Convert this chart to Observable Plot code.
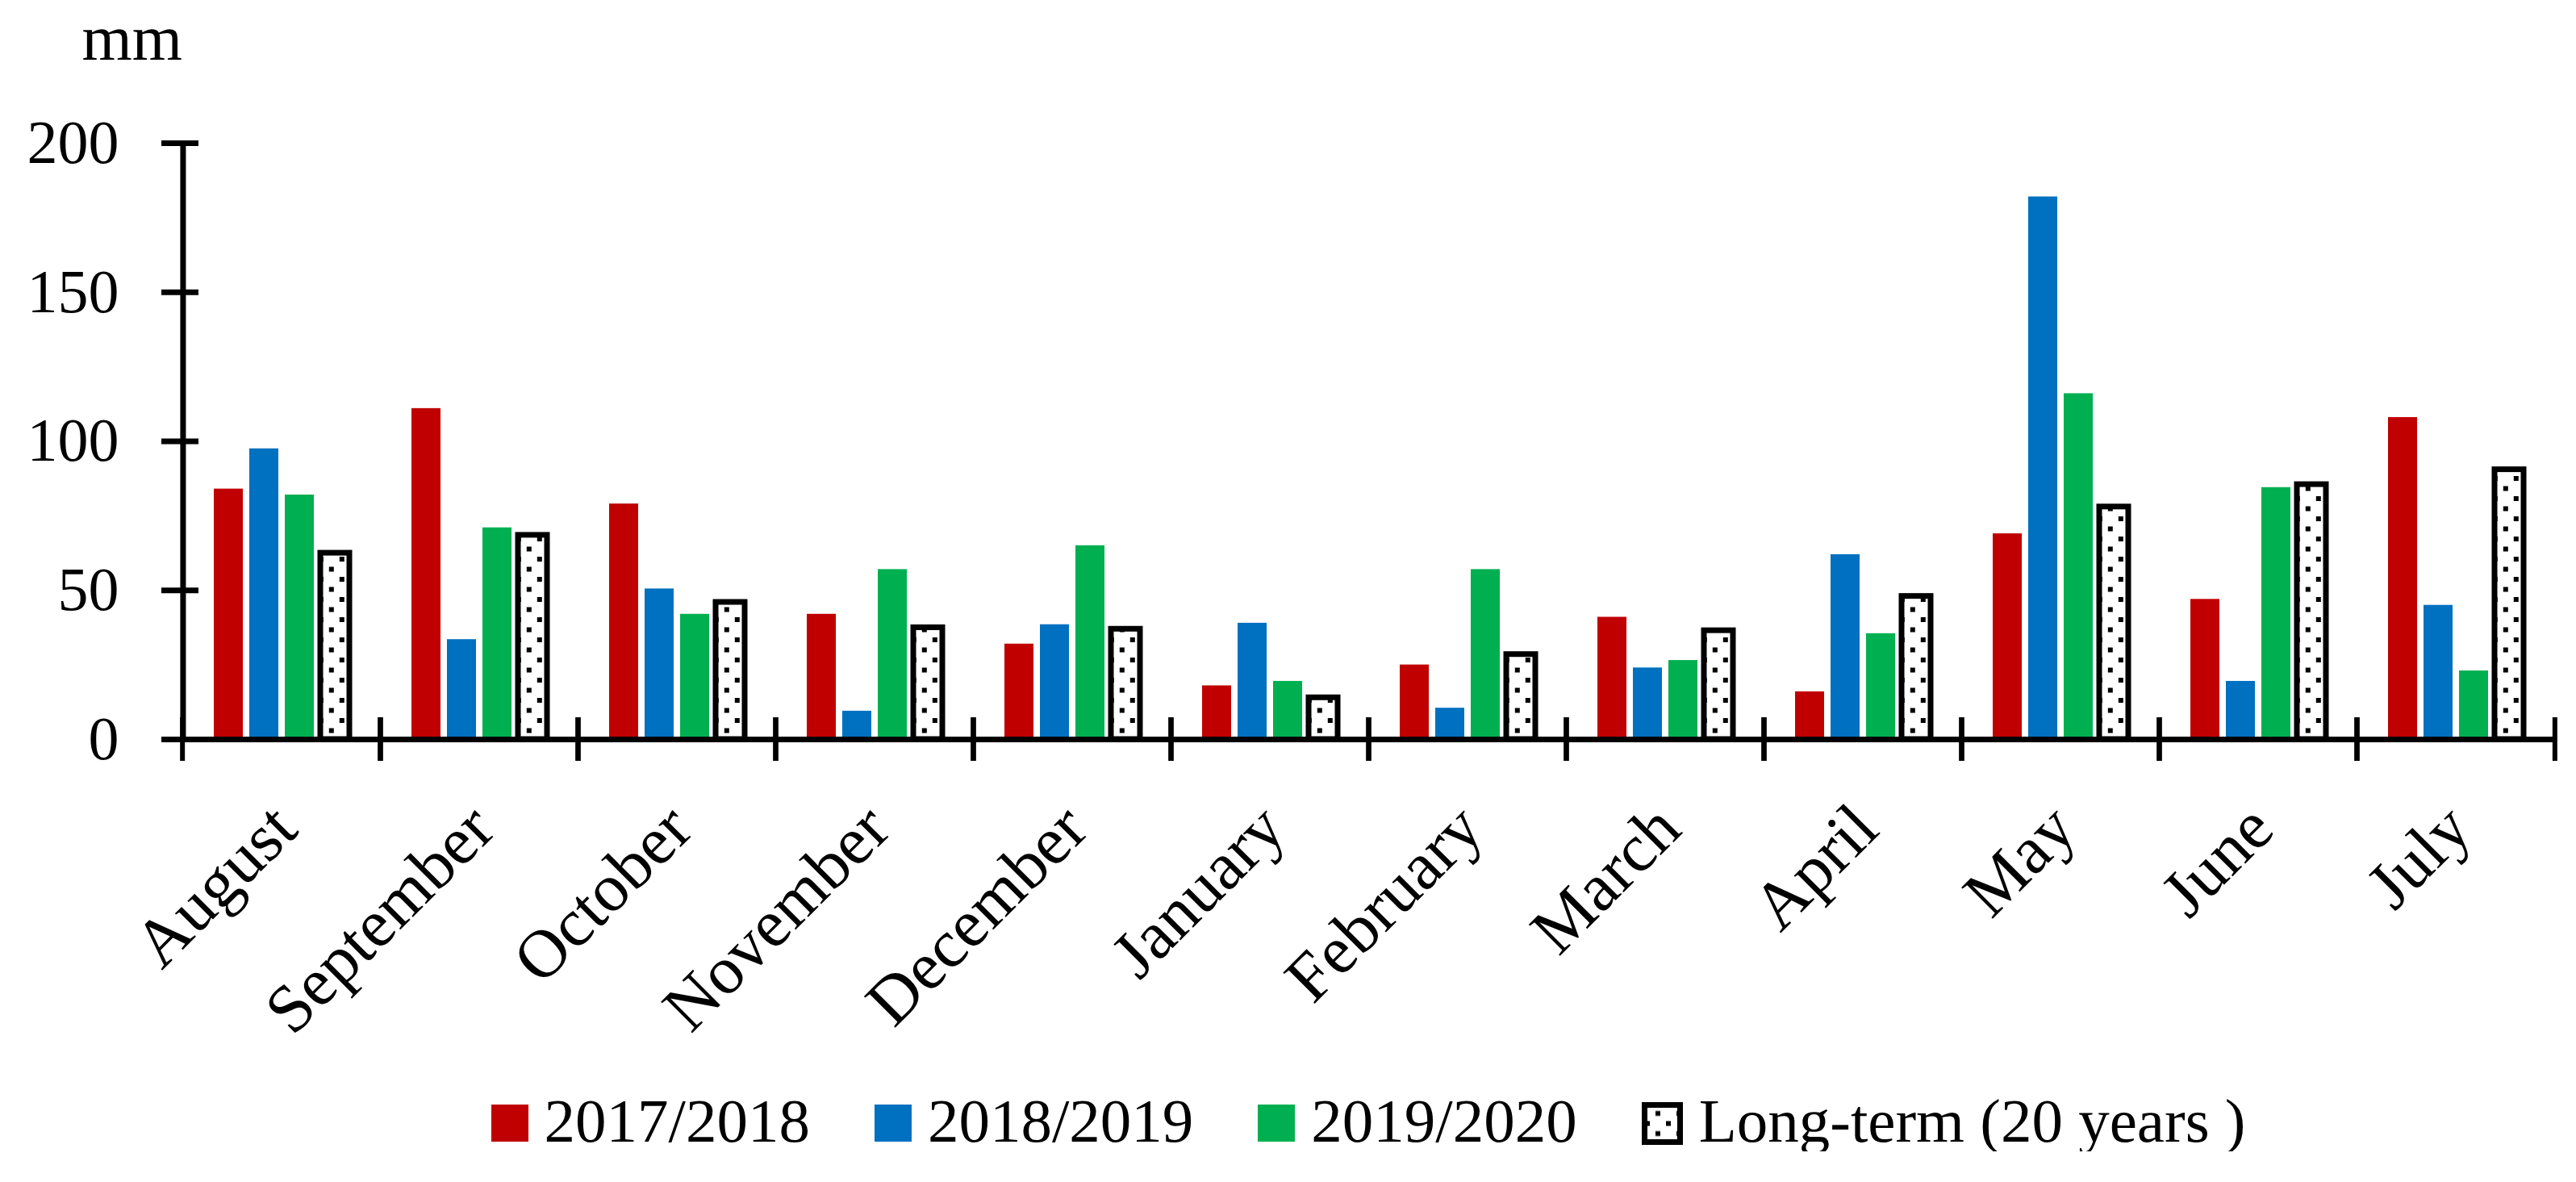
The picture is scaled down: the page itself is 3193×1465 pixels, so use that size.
<!DOCTYPE html>
<html><head><meta charset="utf-8">
<script src="https://cdn.jsdelivr.net/npm/d3@7"></script>
<script src="https://cdn.jsdelivr.net/npm/@observablehq/plot@0.6"></script>
<style>
html,body{margin:0;padding:0;background:#fff;}
body{font-family:"Liberation Serif","Times New Roman",serif;color:#000;}
#legend{display:flex;justify-content:center;align-items:baseline;padding-left:199px;width:2994px;margin-top:31px;font-size:77px;line-height:76px;}
.item{display:flex;align-items:baseline;margin:0 40px;white-space:pre;}
.item svg{margin-right:20px;}
</style></head><body>
<svg width="0" height="0" style="position:absolute"><defs>
<pattern id="ltdots" patternUnits="userSpaceOnUse" width="26" height="25"><rect width="26" height="25" fill="#fff"/><rect x="13" y="0" width="6" height="6" fill="#000"/><rect x="0" y="12.5" width="6" height="6" fill="#000"/></pattern>
<pattern id="legdots" patternUnits="userSpaceOnUse" x="17" y="-1.5" width="26" height="25"><rect width="26" height="25" fill="#fff"/><rect x="13" y="0" width="6" height="6" fill="#000"/><rect x="0" y="12.5" width="6" height="6" fill="#000"/></pattern>
</defs></svg>
<div id="chart"></div>
<div id="legend"></div>
<script>
const months = ["August","September","October","November","December","January","February","March","April","May","June","July"];
const series = ["2017/2018","2018/2019","2019/2020","Long-term (20 years )"];
const colors = ["#C00000","#0070C0","#00B050"];
const v1718 = [84, 111, 79, 42, 32, 18, 25, 41, 16, 69, 47, 108];
const v1819 = [97.5, 33.5, 50.5, 9.5, 38.5, 39, 10.5, 24, 62, 182, 19.5, 45];
const v1920 = [82, 71, 42, 57, 65, 19.5, 57, 26.5, 35.5, 116, 84.5, 23];
const vLong = [62.5, 68.5, 46, 37.5, 37, 14, 28.5, 36.5, 48, 78, 85.5, 90.5];
const yTicks = [0, 50, 100, 150, 200];

const yearData = months.flatMap((m, i) => [
  {month: m, series: series[0], value: v1718[i]},
  {month: m, series: series[1], value: v1819[i]},
  {month: m, series: series[2], value: v1920[i]}
]);
const longData = months.map((m, i) => ({month: m, series: series[3], value: vLong[i]}));

const W = 3193, H = 1320, mL = 222, mR = 23;
const step = (W - mL - mR) / months.length;
const font = "Liberation Serif, Times New Roman, serif";
const padIn = 0.19, padOut = 0.876;
// offset from the first bar's centre to the facet's left edge (same band scale as Plot's x)
const band = d3.scaleBand().domain(series).range([0, step]).paddingInner(padIn).paddingOuter(padOut);
const edgeOffset = band(series[0]) + band.bandwidth() / 2;

const plot = Plot.plot({
  width: W, height: H,
  marginLeft: mL, marginRight: mR, marginTop: 177, marginBottom: H - 916,
  style: {fontFamily: font, fontSize: "76px", color: "#000", background: "#fff"},
  fx: {domain: months, padding: 0, label: null},
  x: {domain: series, paddingInner: padIn, paddingOuter: padOut, axis: null},
  y: {domain: [0, 200], label: null},
  color: {domain: series.slice(0, 3), range: colors},
  marks: [
    Plot.barY(yearData, {fx: "month", x: "series", y: "value", fill: "series"}),
    Plot.barY(longData, {fx: "month", x: "series", y: "value", fill: "url(#ltdots)", stroke: "#000", strokeWidth: 7}),
    Plot.ruleY([0], {stroke: "#000", strokeWidth: 7}),
    Plot.ruleX([series[0]], {fx: () => months[0], x: d => d, y1: 0, y2: 200, dx: -edgeOffset, stroke: "#000", strokeWidth: 7}),
    Plot.axisY({ticks: yTicks, tickSize: 0, tickPadding: 79, fontSize: 76, label: null}),
    Plot.axisY({ticks: yTicks, tickSize: 46, dx: 20, tickFormat: () => "", stroke: "#000", strokeWidth: 7, label: null}),
    Plot.axisFx({anchor: "bottom", tickSize: 54, dy: -27, dx: -step / 2, tickFormat: () => "", stroke: "#000", strokeWidth: 6, label: null}),
    Plot.axisFx([months[months.length - 1]], {anchor: "bottom", tickSize: 54, dy: -27, dx: step / 2, tickFormat: () => "", stroke: "#000", strokeWidth: 6, label: null}),
    Plot.axisFx({anchor: "bottom", tickSize: 0, tickPadding: 96, dx: 4, tickRotate: -45, fontSize: 84, label: null}),
    Plot.text(["mm"], {fx: () => months[0], frameAnchor: "top-left", text: d => d, textAnchor: "start", dx: -125, dy: -160, fontSize: 80})
  ]
});
document.getElementById("chart").appendChild(plot);

// anchor the dotted fill to the long-term bar position
const xs = plot.scale("x"), ys = plot.scale("y");
const pat = document.getElementById("ltdots");
pat.setAttribute("x", xs.apply(series[3]) + 10.8);
pat.setAttribute("y", ys.apply(0) - 26);

// legend
const legend = document.getElementById("legend");
series.forEach((s, i) => {
  const item = document.createElement("div");
  item.className = "item";
  let sw;
  if (i < 3) {
    sw = `<svg width="46" height="46"><rect width="46" height="46" fill="${colors[i]}"/></svg>`;
  } else {
    sw = `<svg width="51" height="53" style="position:relative;top:4px"><rect x="3.5" y="3.5" width="44" height="46" fill="url(#legdots)" stroke="#000" stroke-width="7"/></svg>`;
  }
  item.innerHTML = sw + `<span>${s}</span>`;
  legend.appendChild(item);
});
</script>
</body></html>
